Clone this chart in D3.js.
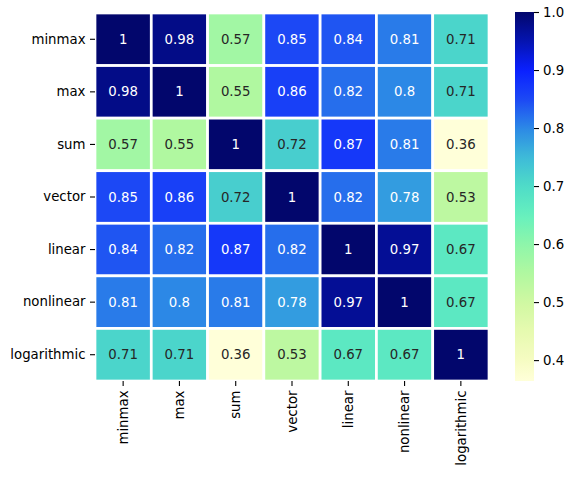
<!DOCTYPE html>
<html><head><meta charset="utf-8">
<script src="https://cdn.jsdelivr.net/npm/d3@7"></script>
<style>body{margin:0;background:#fff}svg{display:block}svg text{font-family:"DejaVu Sans" !important}</style>
</head><body>
<svg id="c" width="572" height="478"></svg>
<script>
const labels = ["minmax","max","sum","vector","linear","nonlinear","logarithmic"];
const values = [
  [1, 0.98, 0.57, 0.85, 0.84, 0.81, 0.71],
  [0.98, 1, 0.55, 0.86, 0.82, 0.80, 0.71],
  [0.57, 0.55, 1, 0.72, 0.87, 0.81, 0.364],
  [0.85, 0.86, 0.72, 1, 0.82, 0.78, 0.53],
  [0.84, 0.82, 0.87, 0.82, 1, 0.97, 0.67],
  [0.81, 0.80, 0.81, 0.78, 0.97, 1, 0.67],
  [0.71, 0.71, 0.364, 0.53, 0.67, 0.67, 1]
];
const colorbarTicks = [0.4,0.5,0.6,0.7,0.8,0.9,1.0];
const colorStops = [0.364,0.40,0.45,0.50,0.55,0.60,0.65,0.70,0.75,0.80,0.85,0.90,0.95,1.0];
const colorList = ['#ffffd9','#f6fcc2','#e6fab0','#d0f8a2','#b0f8a0','#8ef6aa','#66f0be','#4edcc8','#3ebad8','#2c88e6','#1c48f5','#0a20ff','#0514b0','#02066c'];

const svg = d3.select("#c");
const fs = 13.3;
const L=95, R=489, T=13, B=381;
const x = d3.scaleBand().domain(labels).range([L,R]);
const y = d3.scaleBand().domain(labels).range([T,B]);
const vmin = d3.min(values.flat()), vmax = d3.max(values.flat());
const color = d3.scaleLinear().domain(colorStops).range(colorList).interpolate(d3.interpolateRgb).clamp(true);

const cells = [];
values.forEach((row,i)=>row.forEach((v,j)=>cells.push({r:labels[i],c:labels[j],v})));

svg.append("g").selectAll("rect").data(cells).join("rect")
  .attr("x",d=>x(d.c)).attr("y",d=>y(d.r))
  .attr("width",x.bandwidth()).attr("height",y.bandwidth())
  .attr("fill",d=>color(d.v)).attr("stroke","#fff").attr("stroke-width",2.7);

function lum(c){const o=d3.rgb(c);const f=v=>{v/=255;return v<=0.03928?v/12.92:Math.pow((v+0.055)/1.055,2.4)};return 0.2126*f(o.r)+0.7152*f(o.g)+0.0722*f(o.b);}
svg.append("g").selectAll("text").data(cells).join("text")
  .attr("x",d=>x(d.c)+x.bandwidth()/2).attr("y",d=>y(d.r)+y.bandwidth()/2)
  .attr("text-anchor","middle").attr("dominant-baseline","central")
  .style("font-size",fs+"px").style("font-family","DejaVu Sans")
  .attr("fill",d=>lum(color(d.v))>0.408?"#262626":"#ffffff")
  .text(d=>d3.format(".2~g")(Math.round(d.v*100)/100));

function styleAxis(g){
  g.select(".domain").remove();
  g.selectAll("line").attr("stroke","#000").attr("stroke-width",1.1);
  g.selectAll("text").attr("fill","#000").style("font-family","DejaVu Sans").style("font-size",fs+"px");
}
const gy = svg.append("g").attr("transform",`translate(${L},0)`).call(d3.axisLeft(y).tickSize(5).tickPadding(4.5));
styleAxis(gy);

const gx = svg.append("g").attr("transform",`translate(0,${B})`).call(d3.axisBottom(x).tickSize(5).tickPadding(4.5));
styleAxis(gx);
gx.selectAll("text").attr("transform","rotate(-90)").attr("text-anchor","end").attr("dy","0.35em")
  .attr("x",-9.5).attr("y",0);

// colorbar
const cbL=515, cbR=534, cbT=12, cbB=381;
const cy = d3.scaleLinear().domain([vmin,vmax]).range([cbB,cbT]);
const defs = svg.append("defs");
const grad = defs.append("linearGradient").attr("id","g").attr("x1",0).attr("y1",1).attr("x2",0).attr("y2",0);
d3.range(0,1.0001,0.02).forEach(t=>{
  const v = vmin + t*(vmax-vmin);
  grad.append("stop").attr("offset",t).attr("stop-color",color(v));
});
svg.append("rect").attr("x",cbL).attr("y",cbT).attr("width",cbR-cbL).attr("height",cbB-cbT).attr("fill","url(#g)");
const gc = svg.append("g").attr("transform",`translate(${cbR},0)`)
  .call(d3.axisRight(cy).tickValues(colorbarTicks).tickFormat(d3.format(".1f")).tickSize(5).tickPadding(4));
styleAxis(gc);
</script>
</body></html>
